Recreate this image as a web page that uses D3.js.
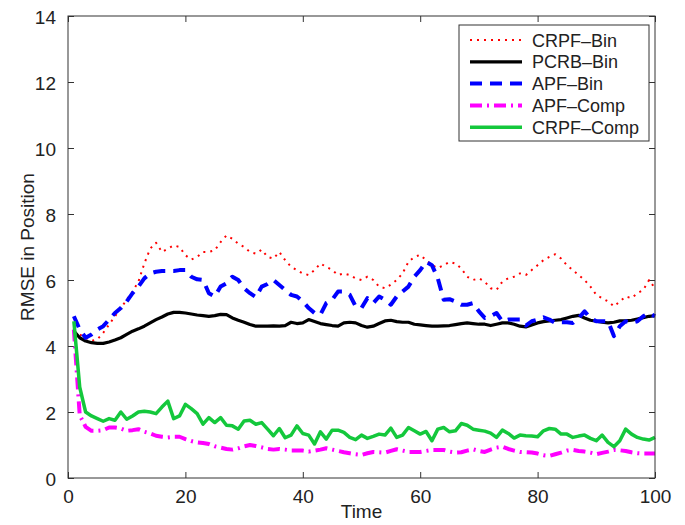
<!DOCTYPE html>
<html>
<head>
<meta charset="utf-8">
<script src="https://cdn.jsdelivr.net/npm/d3@7"></script>
<style>
  body { margin: 0; background: #fff; }
  text { font-family: 'Liberation Sans', Arial, Helvetica, sans-serif; }
</style>
</head>
<body>
<svg width="685" height="525"></svg>
<script>
const time = d3.range(1, 101);

const crpfBin = [4.45,4.35,4.25,4.15,4.2,4.4,4.65,4.9,5.15,5.4,
  5.65,5.95,6.5,6.95,7.13,6.85,6.95,7.05,7.0,6.75,
  6.62,6.7,6.85,6.85,6.9,7.15,7.35,7.25,7.1,7.0,
  6.85,6.8,6.92,6.7,6.65,6.85,6.6,6.4,6.3,6.2,
  6.15,6.3,6.5,6.4,6.3,6.15,6.2,6.15,6.05,6.0,
  6.1,6.0,5.8,5.75,5.86,6.0,6.2,6.55,6.7,6.76,
  6.6,6.45,6.36,6.45,6.55,6.5,6.35,6.1,6.0,6.05,
  5.95,5.75,5.7,5.95,6.05,6.1,6.2,6.15,6.3,6.45,
  6.6,6.7,6.78,6.65,6.45,6.3,6.15,6.0,5.8,5.55,
  5.45,5.35,5.2,5.35,5.5,5.45,5.6,5.7,6.0,5.75];

const pcrbBin = [4.45,4.25,4.15,4.1,4.08,4.08,4.12,4.18,4.25,4.35,
  4.45,4.52,4.6,4.7,4.8,4.88,4.97,5.02,5.02,5.0,
  4.97,4.94,4.92,4.9,4.92,4.96,4.95,4.85,4.78,4.72,
  4.65,4.6,4.6,4.6,4.61,4.6,4.62,4.72,4.68,4.7,
  4.8,4.74,4.68,4.65,4.62,4.6,4.7,4.72,4.7,4.62,
  4.57,4.6,4.68,4.76,4.78,4.74,4.72,4.72,4.66,4.64,
  4.62,4.6,4.6,4.61,4.62,4.65,4.68,4.7,4.68,4.66,
  4.66,4.62,4.66,4.7,4.7,4.66,4.6,4.58,4.64,4.7,
  4.74,4.76,4.78,4.8,4.85,4.9,4.93,4.85,4.78,4.75,
  4.72,4.7,4.72,4.76,4.76,4.78,4.82,4.86,4.9,4.92];

const apfBin = [4.9,4.5,4.25,4.35,4.5,4.6,4.8,5.0,5.15,5.35,
  5.6,5.8,6.05,6.2,6.25,6.27,6.27,6.27,6.3,6.3,
  6.1,6.02,6.0,5.6,5.5,5.8,5.9,6.1,6.0,5.75,
  5.6,5.48,5.8,5.88,6.0,5.85,5.7,5.55,5.5,5.35,
  5.15,5.0,4.95,5.3,5.4,5.65,5.65,5.55,5.2,5.15,
  5.45,5.3,5.5,5.4,5.25,5.5,5.65,5.8,6.1,6.3,
  6.55,6.45,6.05,5.4,5.42,5.35,5.25,5.25,5.3,5.05,
  4.85,4.9,5.0,4.75,4.8,4.8,4.8,4.62,4.75,4.8,
  4.87,4.8,4.7,4.72,4.72,4.7,4.85,5.05,4.85,4.75,
  4.75,4.75,4.3,4.6,4.75,4.7,4.75,4.9,5.0,4.9];

const apfComp = [4.5,1.9,1.55,1.43,1.43,1.45,1.53,1.53,1.5,1.43,
  1.45,1.48,1.4,1.35,1.28,1.25,1.23,1.25,1.25,1.18,
  1.12,1.08,1.06,1.03,0.96,0.92,0.88,0.86,0.9,0.96,
  1.0,0.97,0.93,0.88,0.86,0.88,0.86,0.83,0.83,0.83,
  0.8,0.83,0.86,0.9,0.86,0.82,0.78,0.75,0.72,0.7,
  0.75,0.79,0.78,0.77,0.82,0.87,0.83,0.79,0.79,0.79,
  0.82,0.85,0.85,0.85,0.8,0.77,0.78,0.83,0.87,0.82,
  0.79,0.86,0.92,0.95,0.88,0.83,0.79,0.78,0.77,0.74,
  0.69,0.67,0.72,0.77,0.83,0.85,0.82,0.8,0.77,0.72,
  0.76,0.8,0.85,0.84,0.82,0.78,0.75,0.74,0.74,0.74];

const crpfComp = [4.75,2.75,2.0,1.88,1.8,1.72,1.8,1.75,2.0,1.78,
  1.88,2.0,2.02,2.0,1.95,2.15,2.33,1.8,1.88,2.23,
  2.1,1.95,1.63,1.83,1.68,1.83,1.6,1.58,1.48,1.73,
  1.75,1.63,1.68,1.48,1.28,1.5,1.22,1.3,1.58,1.35,
  1.3,1.03,1.4,1.18,1.45,1.45,1.38,1.23,1.16,1.3,
  1.2,1.26,1.33,1.3,1.51,1.23,1.3,1.53,1.43,1.33,
  1.41,1.13,1.48,1.53,1.4,1.43,1.65,1.6,1.48,1.45,
  1.42,1.36,1.23,1.45,1.35,1.21,1.3,1.28,1.27,1.25,
  1.43,1.5,1.48,1.33,1.33,1.23,1.27,1.3,1.2,1.13,
  1.3,1.08,0.95,1.13,1.48,1.33,1.23,1.18,1.15,1.23];

const seriesNames = ['CRPF\u2013Bin', 'PCRB\u2013Bin', 'APF\u2013Bin', 'APF\u2013Comp', 'CRPF\u2013Comp'];
const seriesValues = [crpfBin, pcrbBin, apfBin, apfComp, crpfComp];
const xTicks = [0, 20, 40, 60, 80, 100];
const yTicks = [0, 2, 4, 6, 8, 10, 12, 14];

const styles = [
  {color: '#ff0000', width: 2, dash: '2,5'},
  {color: '#000000', width: 3.2, dash: null},
  {color: '#0000ff', width: 4, dash: '12,8'},
  {color: '#ff00ff', width: 4, dash: '12,5,2,5'},
  {color: '#14c83c', width: 3.5, dash: null}
];

const svg = d3.select('svg');
const width = +svg.attr('width');
const height = +svg.attr('height');
const margin = {top: 16, right: 30, bottom: 47, left: 68};
const innerWidth = width - margin.left - margin.right;
const innerHeight = height - margin.top - margin.bottom;

const xScale = d3.scaleLinear().domain([0, 100]).range([0, innerWidth]);
const yScale = d3.scaleLinear().domain([0, 14]).range([innerHeight, 0]);

const g = svg.append('g')
  .attr('transform', `translate(${margin.left},${margin.top})`);

const styleAxis = sel => {
  sel.select('.domain').remove();
  sel.selectAll('line').attr('stroke', '#333');
  sel.selectAll('text')
    .attr('font-size', 19)
    .attr('fill', '#222');
};
const noLabels = sel => {
  sel.select('.domain').remove();
  sel.selectAll('text').remove();
  sel.selectAll('line').attr('stroke', '#333');
};

g.append('g')
  .call(d3.axisLeft(yScale).tickValues(yTicks).tickSize(-6).tickPadding(12))
  .call(styleAxis)
  .selectAll('text').attr('dy', null).attr('y', 7);
g.append('g')
  .attr('transform', `translate(${innerWidth},0)`)
  .call(d3.axisRight(yScale).tickValues(yTicks).tickSize(-6))
  .call(noLabels);
g.append('g')
  .attr('transform', `translate(0,${innerHeight})`)
  .call(d3.axisBottom(xScale).tickValues(xTicks).tickSize(-6))
  .call(styleAxis)
  .selectAll('text').attr('dy', null).attr('y', 25);
g.append('g')
  .call(d3.axisTop(xScale).tickValues(xTicks).tickSize(-6))
  .call(noLabels);

const line = d3.line()
  .x((d, i) => xScale(time[i]))
  .y(d => yScale(d));

seriesValues.forEach((vals, k) => {
  g.append('path')
    .datum(vals)
    .attr('fill', 'none')
    .attr('stroke', styles[k].color)
    .attr('stroke-width', styles[k].width)
    .attr('stroke-dasharray', styles[k].dash)
    .attr('stroke-linejoin', 'round')
    .attr('d', line);
});

g.append('rect')
  .attr('width', innerWidth)
  .attr('height', innerHeight)
  .attr('fill', 'none')
  .attr('stroke', '#333')
  .attr('stroke-width', 1);

// legend
const legend = g.append('g')
  .attr('transform', `translate(${459 - margin.left},${25 - margin.top})`);
legend.append('rect')
  .attr('width', 190)
  .attr('height', 116)
  .attr('fill', '#fff')
  .attr('stroke', '#333');
seriesNames.forEach((name, k) => {
  const yy = 15 + k * 21.8;
  legend.append('line')
    .attr('x1', 11).attr('x2', 63)
    .attr('y1', yy).attr('y2', yy)
    .attr('stroke', styles[k].color)
    .attr('stroke-width', styles[k].width)
    .attr('stroke-dasharray', styles[k].dash);
  legend.append('text')
    .attr('x', 73)
    .attr('y', yy + 6.5)
    .attr('font-size', 18)
    .attr('fill', '#222')
    .text(name);
});

// axis titles
svg.append('text')
  .attr('x', margin.left + innerWidth / 2)
  .attr('y', 518)
  .attr('text-anchor', 'middle')
  .attr('font-size', 19)
  .attr('fill', '#222')
  .text('Time');

svg.append('text')
  .attr('transform', `translate(34,${margin.top + innerHeight / 2}) rotate(-90)`)
  .attr('text-anchor', 'middle')
  .attr('font-size', 19)
  .attr('fill', '#222')
  .text('RMSE in Position');
</script>
</body>
</html>
